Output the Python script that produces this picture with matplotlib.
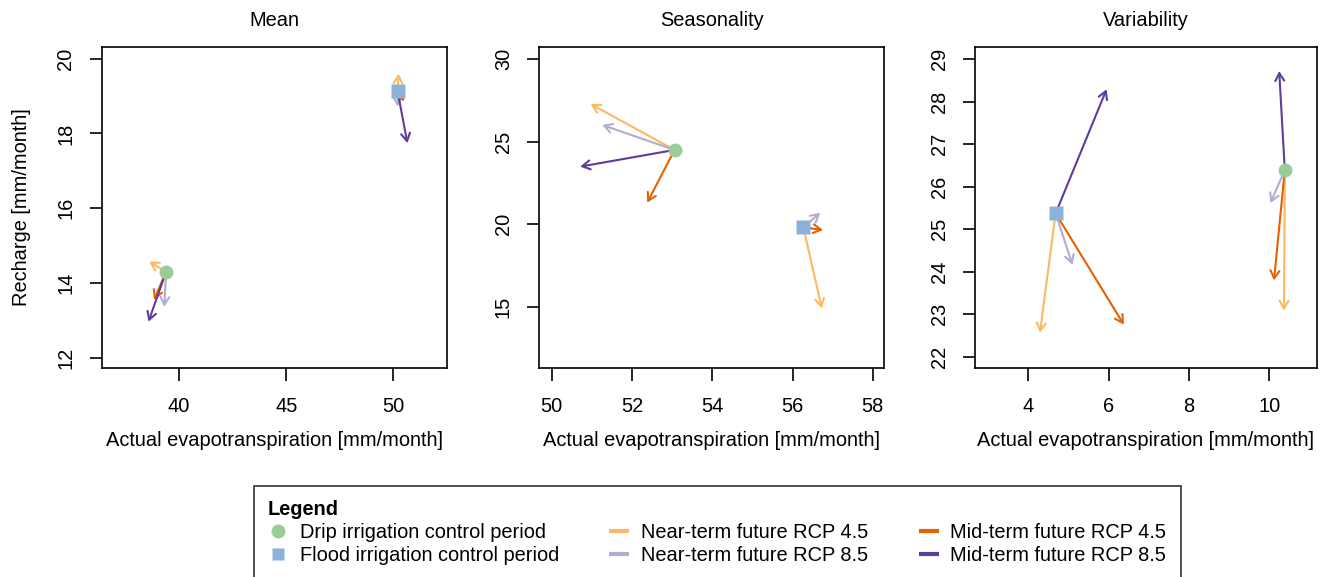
import numpy as np
import matplotlib
matplotlib.use("Agg")
import matplotlib.pyplot as plt
from matplotlib.lines import Line2D

plt.rcParams['font.family'] = ['Liberation Sans', 'DejaVu Sans']

# panels
panels = ["Mean", "Seasonality", "Variability"]

# control period (ET, recharge) per panel
drip_ctrl_et = [39.39, 53.06, 10.39]
drip_ctrl_rc = [14.30, 24.49, 26.39]
flood_ctrl_et = [50.19, 56.27, 4.68]
flood_ctrl_rc = [19.14, 19.81, 25.37]

# future scenarios: rows = scenario, cols = panel
scenarios = ["Near-term future RCP 4.5", "Near-term future RCP 8.5",
             "Mid-term future RCP 4.5", "Mid-term future RCP 8.5"]
scen_colors = ["#fdb863", "#b2abd2", "#e66101", "#5e3c99"]

drip_fut_et = [[38.60, 50.97, 10.37],
               [39.31, 51.26, 10.03],
               [38.83, 52.38, 10.12],
               [38.57, 50.71, 10.25]]
drip_fut_rc = [[14.57, 27.27, 23.08],
               [13.36, 26.00, 25.61],
               [13.54, 21.30, 23.79],
               [12.96, 23.48, 28.72]]
flood_fut_et = [[50.24, 56.73, 4.29],
                [50.20, 56.69, 5.10],
                [50.50, 56.76, 6.38],
                [50.65, 56.27, 5.95]]
flood_fut_rc = [[19.60, 14.90, 22.56],
                [18.72, 20.69, 24.16],
                [18.86, 19.64, 22.75],
                [17.74, 19.81, 28.29]]

# axis settings per panel
xlims = [(36.39, 52.5), (49.69, 58.28), (2.67, 11.19)]
ylims = [(11.72, 20.31), (11.29, 30.71), (21.73, 29.28)]
xticks = [[40, 45, 50], [50, 52, 54, 56, 58], [4, 6, 8, 10]]
yticks = [[12, 14, 16, 18, 20], [15, 20, 25, 30], [22, 23, 24, 25, 26, 27, 28, 29]]

drip_color = "#99cc99"
flood_color = "#8cb2d9"
fs = 14.4

fig = plt.figure(figsize=(13.25, 5.77), dpi=100)
lefts = [0.0768, 0.4070, 0.7358]
widths = [0.2606, 0.2602, 0.2581]

for i in range(3):
    ax = fig.add_axes([lefts[i], 0.3622, widths[i], 0.556])
    # arrows from control to future
    for s in range(4):
        for x0, y0, x1, y1 in [(drip_ctrl_et[i], drip_ctrl_rc[i], drip_fut_et[s][i], drip_fut_rc[s][i]),
                               (flood_ctrl_et[i], flood_ctrl_rc[i], flood_fut_et[s][i], flood_fut_rc[s][i])]:
            if abs(x1 - x0) < 1e-6 and abs(y1 - y0) < 1e-6:
                continue
            ax.annotate('', xy=(x1, y1), xytext=(x0, y0),
                        arrowprops=dict(arrowstyle='->,head_length=0.4,head_width=0.23',
                                        color=scen_colors[s], lw=1.5, mutation_scale=14,
                                        shrinkA=0, shrinkB=0))
    ax.plot(drip_ctrl_et[i], drip_ctrl_rc[i], 'o', color=drip_color, ms=10, mec='none', zorder=5)
    ax.plot(flood_ctrl_et[i], flood_ctrl_rc[i], 's', color=flood_color, ms=10, mec='none', zorder=5)

    ax.set_xlim(xlims[i])
    ax.set_ylim(ylims[i])
    ax.set_xticks(xticks[i])
    ax.set_yticks(yticks[i])
    ax.tick_params(length=9, width=1.2, labelsize=fs, direction='out')
    ax.tick_params(axis='x', pad=12)
    ax.tick_params(axis='y', pad=10)
    for lab in ax.get_yticklabels():
        lab.set_rotation(90)
        lab.set_va('center')
    for sp in ax.spines.values():
        sp.set_linewidth(1.2)
    ax.set_title(panels[i], fontsize=fs, pad=15)
    ax.set_xlabel("Actual evapotranspiration [mm/month]", fontsize=fs, labelpad=11)
    if i == 0:
        ax.set_ylabel("Recharge [mm/month]", fontsize=fs, labelpad=18)

handles = [Line2D([], [], marker='o', ls='none', color=drip_color, ms=10, mec='none'),
           Line2D([], [], marker='s', ls='none', color=flood_color, ms=9, mec='none')]
labels = ["Drip irrigation control period", "Flood irrigation control period"]
for s in range(4):
    handles.append(Line2D([], [], color=scen_colors[s], lw=3, solid_capstyle='butt'))
    labels.append(scenarios[s])

leg = fig.legend(handles, labels, ncol=3, loc='upper left',
                 bbox_to_anchor=(254 / 1325, 1 - 486 / 577),
                 title="Legend", alignment='left', fontsize=fs,
                 title_fontproperties={'weight': 'bold', 'size': fs},
                 frameon=True, fancybox=False, edgecolor='black',
                 handlelength=1.0, handletextpad=0.6, columnspacing=2.5,
                 labelspacing=0.2, borderpad=0.7, borderaxespad=0)
leg.get_frame().set_linewidth(1.2)

fig.savefig("out.png", dpi=100)
